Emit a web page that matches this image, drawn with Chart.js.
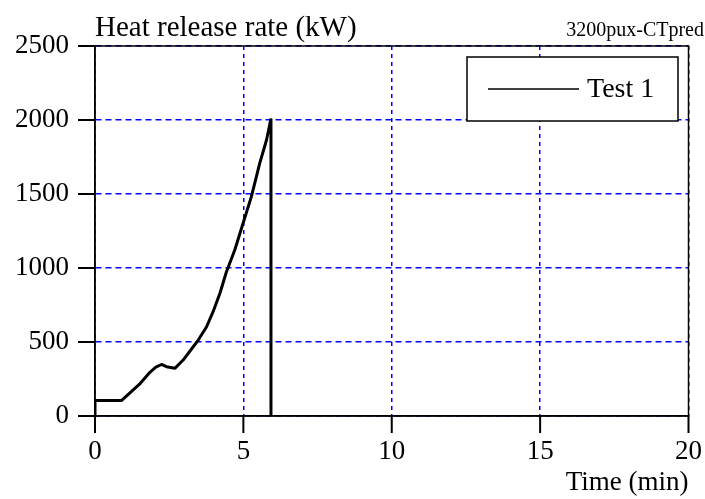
<!DOCTYPE html>
<html>
<head>
<meta charset="utf-8">
<script src="https://cdn.jsdelivr.net/npm/chart.js@4"></script>
<style>
  html, body { margin: 0; padding: 0; background: #fff; }
  #wrap { width: 705px; height: 499px; }
</style>
</head>
<body>
<div id="wrap"><canvas id="myChart" width="705" height="499"></canvas></div>
<script>
// values
const seriesName = 'Test 1';
const timeMin = [0, 0, 0.9, 1.5, 1.85, 2.05, 2.24, 2.41, 2.69, 2.97, 3.31, 3.48, 3.76, 3.98, 4.21, 4.43, 4.71, 4.99, 5.27, 5.55, 5.78, 5.93, 5.93];
const hrrKW = [0, 105, 105, 215, 295, 330, 348, 333, 322, 378, 468, 513, 603, 705, 829, 975, 1122, 1302, 1482, 1707, 1865, 2010, 0];
const xTicks = [0, 5, 10, 15, 20];
const yTicks = [0, 500, 1000, 1500, 2000, 2500];
const yTitle = 'Heat release rate (kW)';
const xTitle = 'Time (min)';
const tag = '3200pux-CTpred';

const serif = 'Liberation Serif, Times New Roman, serif';
const gridBlue = 'rgb(0,0,255)';

// title, tag, frame, outer ticks and boxed legend
const extras = {
    id: 'extras',
    afterDraw(chart) {
        const ctx = chart.ctx;
        const a = chart.chartArea;
        const sx = chart.scales.x, sy = chart.scales.y;
        ctx.save();
        ctx.strokeStyle = '#000';
        ctx.lineWidth = 1.5;
        ctx.strokeRect(a.left, a.top, a.right - a.left, a.bottom - a.top);

        // outward ticks
        ctx.fillStyle = '#000';
        xTicks.forEach(v => {
            const px = sx.getPixelForValue(v);
            ctx.fillRect(px - 1, a.bottom, 2, 17);
        });
        yTicks.forEach(v => {
            const py = sy.getPixelForValue(v);
            ctx.fillRect(a.left - 17, py - 1, 17, 2);
        });

        ctx.textBaseline = 'alphabetic';
        ctx.font = '29px ' + serif;
        ctx.textAlign = 'left';
        ctx.fillText(yTitle, a.left, 36);
        ctx.font = '20px ' + serif;
        ctx.textAlign = 'right';
        ctx.fillText(tag, 704, 36);

        // legend box
        const bx = 467, by = 57, bw = 211, bh = 64;
        ctx.fillStyle = '#fff';
        ctx.fillRect(bx, by, bw, bh);
        ctx.lineWidth = 1.5;
        ctx.strokeRect(bx, by, bw, bh);
        ctx.beginPath();
        ctx.moveTo(488, 89);
        ctx.lineTo(579, 89);
        ctx.lineWidth = 1.5;
        ctx.stroke();
        ctx.fillStyle = '#000';
        ctx.font = '28px ' + serif;
        ctx.textAlign = 'left';
        ctx.textBaseline = 'middle';
        ctx.fillText(chart.data.datasets[0].label, 587, 90);
        ctx.restore();
    }
};

const points = timeMin.map((t, i) => ({ x: t, y: hrrKW[i] }));

new Chart(document.getElementById('myChart'), {
    type: 'line',
    data: {
        datasets: [{
            label: seriesName,
            data: points,
            borderColor: '#000',
            borderWidth: 3,
            borderJoinStyle: 'bevel',
            pointRadius: 0,
            tension: 0,
            fill: false
        }]
    },
    options: {
        responsive: false,
        animation: false,
        layout: { padding: { top: 46, right: 16, left: 0, bottom: 0 } },
        plugins: { legend: { display: false }, tooltip: { enabled: false } },
        scales: {
            x: {
                type: 'linear',
                min: 0, max: 20,
                afterBuildTicks: s => { s.ticks = xTicks.map(v => ({ value: v })); },
                afterFit: s => { s.height = 83; },
                grid: { color: gridBlue, lineWidth: 1.5, tickLength: 17, tickColor: 'rgba(0,0,0,0)' },
                border: { display: true, color: '#000', width: 1.5, dash: [4, 4] },
                ticks: { color: '#000', font: { family: serif, size: 27 }, padding: 3, maxRotation: 0, callback: v => String(v) },
                title: { display: true, text: xTitle, align: 'end', color: '#000', font: { family: serif, size: 27 }, padding: 0 }
            },
            y: {
                min: 0, max: 2500,
                afterBuildTicks: s => { s.ticks = yTicks.map(v => ({ value: v })); },
                afterFit: s => { s.width = 95; },
                grid: { color: gridBlue, lineWidth: 1.5, tickLength: 17, tickColor: 'rgba(0,0,0,0)' },
                border: { display: true, color: '#000', width: 1.5, dash: [6, 4] },
                ticks: { color: '#000', font: { family: serif, size: 27 }, padding: 9, callback: v => String(v) }
            }
        }
    },
    plugins: [extras]
});
</script>
</body>
</html>
